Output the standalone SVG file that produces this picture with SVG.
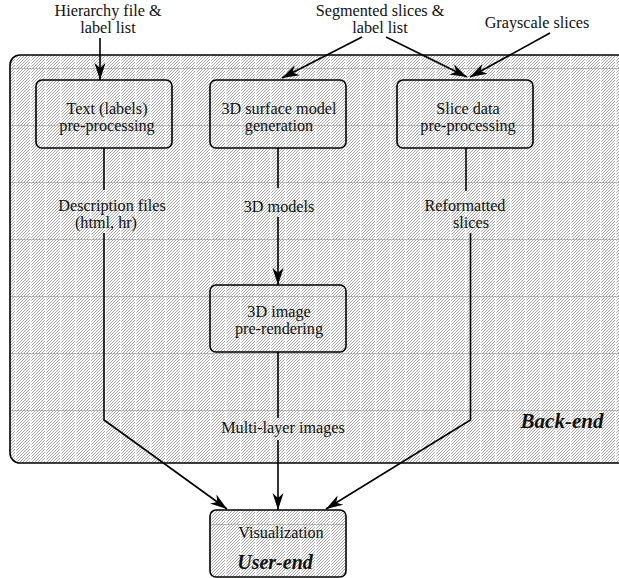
<svg xmlns="http://www.w3.org/2000/svg" width="619" height="578" viewBox="0 0 619 578">
<style>
.t{font-family:"Liberation Serif","Times New Roman",serif;font-size:16.2px;fill:#111;text-anchor:middle}
.bi{font-family:"Liberation Serif","Times New Roman",serif;font-weight:bold;font-style:italic;fill:#111;text-anchor:middle}
.box{fill:url(#hatch);stroke:#000;stroke-width:1.6}
.c{fill:none;stroke:#000;stroke-width:1.6}
.a{marker-end:url(#ah)}
</style>
<defs>
<pattern id="diag" width="3" height="3" patternUnits="userSpaceOnUse">
<path d="M-1,1 L1,-1 M0,3 L3,0 M2,4 L4,2" stroke="#969696" stroke-width="0.85"/>
</pattern>
<pattern id="hatch" width="15" height="57" y="11" patternUnits="userSpaceOnUse">
<rect width="15" height="57" fill="#fff"/>
<rect width="15" height="57" fill="url(#diag)"/>
<rect x="0" width="1.3" height="57" fill="#fff"/>
<line x1="0" y1="0.5" x2="15" y2="0.5" stroke="#999" stroke-width="0.9" stroke-dasharray="1.5 1.5"/>
</pattern>
<marker id="ah" markerUnits="userSpaceOnUse" markerWidth="20" markerHeight="14" refX="18" refY="6" orient="auto" viewBox="0 0 20 12">
<path d="M18,6 L1,0.5 L6,6 L1,11.5 Z" fill="#000"/>
</marker>
</defs>

<g id="backend">
<rect x="10" y="55" width="640" height="408" rx="10" ry="10" class="box"/>
<text class="bi" x="562" y="428" font-size="21">Back-end</text>
</g>

<g id="inputs">
<text class="t" x="108" y="16">Hierarchy file &amp;</text>
<text class="t" x="108" y="33">label list</text>
<text class="t" x="380" y="16">Segmented slices &amp;</text>
<text class="t" x="380" y="33">label list</text>
<text class="t" x="537" y="28">Grayscale slices</text>
</g>

<g id="text-preprocessing">
<rect x="36" y="80" width="136" height="68" rx="6" ry="6" class="box"/>
<text class="t" x="107" y="114">Text (labels)</text>
<text class="t" x="107" y="131">pre-processing</text>
</g>

<g id="surface-model">
<rect x="210" y="80" width="136" height="68" rx="6" ry="6" class="box"/>
<text class="t" x="279" y="114">3D surface model</text>
<text class="t" x="279" y="131">generation</text>
</g>

<g id="slice-preprocessing">
<rect x="397" y="80" width="136" height="68" rx="6" ry="6" class="box"/>
<text class="t" x="468" y="114">Slice data</text>
<text class="t" x="468" y="131">pre-processing</text>
</g>

<g id="image-prerendering">
<rect x="210" y="285" width="136" height="67" rx="6" ry="6" class="box"/>
<text class="t" x="279" y="317">3D image</text>
<text class="t" x="279" y="334">pre-rendering</text>
</g>

<g id="visualization">
<rect x="210" y="510" width="136" height="67" rx="6" ry="6" class="box"/>
<text class="t" x="281" y="538">Visualization</text>
<text class="bi" x="275" y="569" font-size="20">User-end</text>
</g>

<g id="edge-labels">
<text class="t" x="112" y="211">Description files</text>
<text class="t" x="106" y="228">(html, hr)</text>
<text class="t" x="279" y="212">3D models</text>
<text class="t" x="465" y="211">Reformatted</text>
<text class="t" x="471" y="228">slices</text>
<text class="t" x="283" y="433">Multi-layer images</text>
</g>

<g id="connectors">
<line x1="100" y1="38" x2="100" y2="80" class="c a"/>
<line x1="362" y1="37" x2="282" y2="78" class="c a"/>
<line x1="386" y1="37" x2="467" y2="77" class="c a"/>
<line x1="550" y1="33" x2="470" y2="77" class="c a"/>
<line x1="104" y1="148" x2="104" y2="190" class="c"/>
<polyline points="104,233 104,420 227,509" class="c a"/>
<line x1="278" y1="148" x2="278" y2="188" class="c"/>
<line x1="278" y1="217" x2="278" y2="285" class="c a"/>
<line x1="278" y1="352" x2="278" y2="418" class="c"/>
<line x1="278" y1="440" x2="278" y2="510" class="c a"/>
<line x1="466" y1="148" x2="466" y2="191" class="c"/>
<polyline points="470.5,233 470.5,420 326,509" class="c a"/>
</g>
</svg>
